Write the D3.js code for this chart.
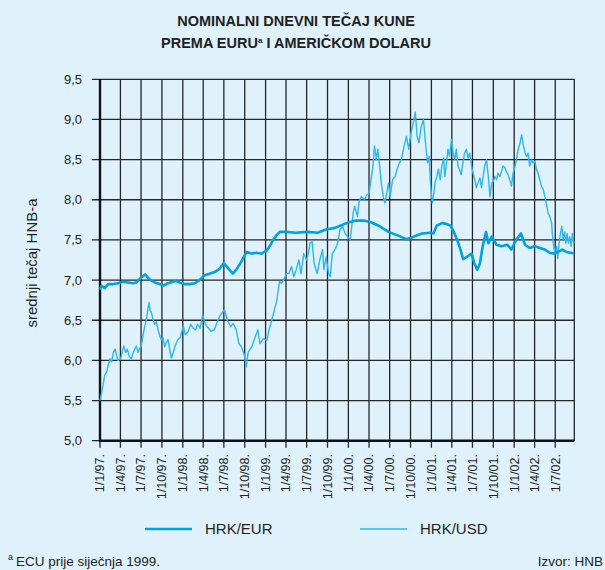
<!DOCTYPE html>
<html>
<head>
<meta charset="utf-8">
<script src="https://cdn.jsdelivr.net/npm/d3@7"></script>
<style>
  body { margin: 0; background: #dff1fb; }
  svg { display: block; font-family: "Liberation Sans", Arial, sans-serif; }
</style>
</head>
<body>
<svg id="chart"></svg>
<script>
var WIDTH = 605
var HEIGHT = 570

var TITLE_LINES = ["NOMINALNI DNEVNI TEČAJ KUNE", "PREMA EURU", " I AMERIČKOM DOLARU"]
var Y_TICKS = [5.0, 5.5, 6.0, 6.5, 7.0, 7.5, 8.0, 8.5, 9.0, 9.5]
var X_TICK_DATES = ["1997-01-01", "1997-04-01", "1997-07-01", "1997-10-01",
  "1998-01-01", "1998-04-01", "1998-07-01", "1998-10-01",
  "1999-01-01", "1999-04-01", "1999-07-01", "1999-10-01",
  "2000-01-01", "2000-04-01", "2000-07-01", "2000-10-01",
  "2001-01-01", "2001-04-01", "2001-07-01", "2001-10-01",
  "2002-01-01", "2002-04-01", "2002-07-01"]
var X_TICK_LABELS = ["1/1/97.", "1/4/97.", "1/7/97.", "1/10/97.",
  "1/1/98.", "1/4/98.", "1/7/98.", "1/10/98.",
  "1/1/99.", "1/4/99.", "1/7/99.", "1/10/99.",
  "1/1/00.", "1/4/00.", "1/7/00.", "1/10/00.",
  "1/1/01.", "1/4/01.", "1/7/01.", "1/10/01.",
  "1/1/02.", "1/4/02.", "1/7/02."]
var DATE_RANGE = ["1997-01-01", "2002-09-23"]

// HRK/EUR (ECU before 1999)
var hrkEur = [
  ["1997-01-01", 6.88], ["1997-01-08", 6.93], ["1997-01-22", 6.90], ["1997-02-06", 6.95],
  ["1997-02-28", 6.95], ["1997-03-21", 6.96], ["1997-04-13", 6.98], ["1997-05-04", 6.97],
  ["1997-05-25", 6.96], ["1997-06-10", 6.97], ["1997-07-01", 7.03], ["1997-07-19", 7.07],
  ["1997-08-07", 7.01], ["1997-08-30", 6.97], ["1997-09-22", 6.95], ["1997-10-06", 6.93],
  ["1997-10-28", 6.96], ["1997-11-19", 6.98], ["1997-12-03", 6.99], ["1997-12-18", 6.97],
  ["1998-01-09", 6.95], ["1998-01-31", 6.95], ["1998-02-23", 6.96], ["1998-03-16", 7.00],
  ["1998-04-07", 7.06], ["1998-04-29", 7.08], ["1998-05-21", 7.10], ["1998-06-12", 7.14],
  ["1998-06-30", 7.21], ["1998-07-13", 7.17], ["1998-07-25", 7.13], ["1998-08-10", 7.08],
  ["1998-08-25", 7.13], ["1998-09-16", 7.23], ["1998-10-09", 7.35], ["1998-10-31", 7.33],
  ["1998-11-21", 7.34], ["1998-12-13", 7.33], ["1999-01-07", 7.37], ["1999-01-19", 7.42],
  ["1999-02-03", 7.50], ["1999-02-19", 7.56], ["1999-03-04", 7.60], ["1999-04-02", 7.60],
  ["1999-05-14", 7.59], ["1999-07-04", 7.60], ["1999-08-19", 7.59], ["1999-09-24", 7.63],
  ["1999-11-03", 7.65], ["1999-12-25", 7.71], ["2000-01-29", 7.74], ["2000-03-12", 7.74],
  ["2000-04-10", 7.72], ["2000-05-18", 7.67], ["2000-06-26", 7.60], ["2000-08-10", 7.55],
  ["2000-09-13", 7.51], ["2000-09-28", 7.52], ["2000-10-22", 7.55], ["2000-11-21", 7.58],
  ["2000-12-25", 7.59], ["2001-01-10", 7.58], ["2001-01-25", 7.68], ["2001-02-16", 7.71],
  ["2001-03-07", 7.70], ["2001-03-25", 7.68], ["2001-04-10", 7.60], ["2001-04-25", 7.50],
  ["2001-05-09", 7.38], ["2001-05-21", 7.26], ["2001-06-07", 7.29], ["2001-06-27", 7.33],
  ["2001-07-09", 7.21], ["2001-07-22", 7.13], ["2001-08-03", 7.21], ["2001-08-15", 7.42],
  ["2001-08-30", 7.60], ["2001-09-09", 7.46], ["2001-09-24", 7.54], ["2001-10-15", 7.44],
  ["2001-11-06", 7.42], ["2001-12-01", 7.44], ["2001-12-20", 7.38], ["2002-01-09", 7.50],
  ["2002-01-31", 7.58], ["2002-02-18", 7.44], ["2002-03-10", 7.40], ["2002-04-02", 7.42],
  ["2002-04-24", 7.40], ["2002-05-16", 7.38], ["2002-06-07", 7.34], ["2002-06-24", 7.33],
  ["2002-07-13", 7.35], ["2002-08-02", 7.38], ["2002-08-19", 7.35], ["2002-09-06", 7.34],
  ["2002-09-21", 7.33]
]

// HRK/USD
var hrkUsd = [
  ["1997-01-01", 5.50], ["1997-01-08", 5.60], ["1997-01-15", 5.70], ["1997-01-22", 5.82],
  ["1997-01-30", 5.85], ["1997-02-07", 5.95], ["1997-02-14", 6.02], ["1997-02-21", 5.98],
  ["1997-03-01", 6.10], ["1997-03-09", 6.14], ["1997-03-15", 6.06], ["1997-03-21", 6.00],
  ["1997-04-02", 6.02], ["1997-04-10", 6.12], ["1997-04-16", 6.18], ["1997-04-24", 6.10],
  ["1997-05-01", 6.14], ["1997-05-10", 6.05], ["1997-05-19", 6.02], ["1997-05-28", 6.10],
  ["1997-06-10", 6.18], ["1997-06-18", 6.10], ["1997-06-25", 6.15], ["1997-07-02", 6.18],
  ["1997-07-09", 6.30], ["1997-07-17", 6.42], ["1997-07-24", 6.50], ["1997-07-30", 6.62],
  ["1997-08-05", 6.72], ["1997-08-10", 6.62], ["1997-08-15", 6.60], ["1997-08-22", 6.52],
  ["1997-08-30", 6.45], ["1997-09-07", 6.48], ["1997-09-14", 6.38], ["1997-09-22", 6.30],
  ["1997-09-29", 6.25], ["1997-10-06", 6.28], ["1997-10-13", 6.17], ["1997-10-20", 6.22],
  ["1997-10-28", 6.26], ["1997-11-05", 6.12], ["1997-11-12", 6.03], ["1997-11-20", 6.10],
  ["1997-11-27", 6.17], ["1997-12-04", 6.22], ["1997-12-11", 6.26], ["1997-12-20", 6.28],
  ["1998-01-03", 6.43], ["1998-01-12", 6.32], ["1998-01-25", 6.36], ["1998-02-05", 6.45],
  ["1998-02-16", 6.40], ["1998-02-26", 6.38], ["1998-03-08", 6.45], ["1998-03-18", 6.40],
  ["1998-03-30", 6.57], ["1998-04-07", 6.48], ["1998-04-14", 6.43], ["1998-04-25", 6.40],
  ["1998-05-06", 6.36], ["1998-05-20", 6.38], ["1998-06-05", 6.50], ["1998-06-15", 6.56],
  ["1998-07-04", 6.63], ["1998-07-16", 6.50], ["1998-08-01", 6.42], ["1998-08-11", 6.46],
  ["1998-08-25", 6.38], ["1998-09-05", 6.21], ["1998-09-16", 6.17], ["1998-09-28", 6.08],
  ["1998-10-08", 5.92], ["1998-10-16", 6.10], ["1998-11-01", 6.17], ["1998-11-16", 6.29],
  ["1998-11-28", 6.38], ["1998-12-07", 6.21], ["1998-12-22", 6.27], ["1999-01-07", 6.25],
  ["1999-01-16", 6.38], ["1999-01-28", 6.50], ["1999-02-09", 6.63], ["1999-02-20", 6.75],
  ["1999-02-28", 6.92], ["1999-03-04", 6.98], ["1999-03-12", 6.96], ["1999-03-25", 7.02],
  ["1999-04-02", 7.08], ["1999-04-13", 7.08], ["1999-04-25", 7.17], ["1999-05-06", 7.04],
  ["1999-05-16", 7.13], ["1999-05-28", 7.25], ["1999-06-06", 7.08], ["1999-06-18", 7.33],
  ["1999-07-01", 7.25], ["1999-07-10", 7.35], ["1999-07-16", 7.46], ["1999-07-25", 7.48],
  ["1999-08-03", 7.21], ["1999-08-16", 7.08], ["1999-08-28", 7.25], ["1999-09-09", 7.38],
  ["1999-09-15", 7.13], ["1999-09-25", 7.29], ["1999-10-06", 7.08], ["1999-10-13", 7.04],
  ["1999-10-22", 7.33], ["1999-11-03", 7.38], ["1999-11-15", 7.46], ["1999-11-25", 7.63],
  ["1999-12-06", 7.67], ["1999-12-18", 7.58], ["1999-12-28", 7.54], ["2000-01-09", 7.50],
  ["2000-01-16", 7.67], ["2000-01-22", 7.83], ["2000-01-29", 7.92], ["2000-02-10", 7.79],
  ["2000-02-16", 7.96], ["2000-02-27", 8.04], ["2000-03-12", 8.00], ["2000-03-22", 8.06],
  ["2000-04-01", 8.08], ["2000-04-10", 8.25], ["2000-04-18", 8.42], ["2000-04-25", 8.67],
  ["2000-05-03", 8.50], ["2000-05-10", 8.63], ["2000-05-18", 8.42], ["2000-05-25", 8.21],
  ["2000-06-03", 8.04], ["2000-06-10", 7.96], ["2000-06-18", 8.08], ["2000-06-26", 8.21],
  ["2000-07-03", 8.04], ["2000-07-14", 8.25], ["2000-07-25", 8.29], ["2000-08-03", 8.38],
  ["2000-08-13", 8.46], ["2000-08-22", 8.50], ["2000-09-03", 8.67], ["2000-09-13", 8.79],
  ["2000-09-23", 8.63], ["2000-10-03", 8.83], ["2000-10-13", 8.96], ["2000-10-22", 9.09],
  ["2000-10-30", 8.79], ["2000-11-07", 8.71], ["2000-11-18", 8.92], ["2000-11-27", 9.00],
  ["2000-12-06", 8.71], ["2000-12-15", 8.46], ["2000-12-22", 8.54], ["2000-12-28", 8.20],
  ["2001-01-05", 7.96], ["2001-01-10", 8.04], ["2001-01-17", 8.21], ["2001-01-25", 8.29],
  ["2001-02-01", 8.38], ["2001-02-09", 8.25], ["2001-02-16", 8.42], ["2001-02-24", 8.52],
  ["2001-03-01", 8.29], ["2001-03-07", 8.42], ["2001-03-15", 8.63], ["2001-03-22", 8.54],
  ["2001-03-30", 8.75], ["2001-04-07", 8.58], ["2001-04-14", 8.50], ["2001-04-21", 8.63],
  ["2001-04-28", 8.42], ["2001-05-05", 8.38], ["2001-05-12", 8.31], ["2001-05-20", 8.46],
  ["2001-05-27", 8.58], ["2001-06-04", 8.63], ["2001-06-12", 8.52], ["2001-06-19", 8.58],
  ["2001-06-27", 8.42], ["2001-07-04", 8.33], ["2001-07-11", 8.25], ["2001-07-18", 8.15],
  ["2001-07-25", 8.21], ["2001-08-03", 8.27], ["2001-08-10", 8.15], ["2001-08-17", 8.29],
  ["2001-08-24", 8.42], ["2001-09-01", 8.50], ["2001-09-09", 8.29], ["2001-09-16", 8.04],
  ["2001-09-24", 8.21], ["2001-10-01", 8.23], ["2001-10-08", 8.29], ["2001-10-15", 8.25],
  ["2001-10-22", 8.33], ["2001-10-30", 8.29], ["2001-11-06", 8.35], ["2001-11-13", 8.42],
  ["2001-11-21", 8.40], ["2001-11-28", 8.35], ["2001-12-05", 8.31], ["2001-12-12", 8.25],
  ["2001-12-20", 8.17], ["2001-12-27", 8.33], ["2002-01-05", 8.42], ["2002-01-12", 8.52],
  ["2002-01-19", 8.63], ["2002-01-27", 8.71], ["2002-02-03", 8.81], ["2002-02-11", 8.67],
  ["2002-02-18", 8.58], ["2002-02-25", 8.54], ["2002-03-03", 8.58], ["2002-03-10", 8.42],
  ["2002-03-18", 8.50], ["2002-03-25", 8.46], ["2002-04-02", 8.48], ["2002-04-09", 8.38],
  ["2002-04-16", 8.33], ["2002-04-24", 8.25], ["2002-05-01", 8.17], ["2002-05-09", 8.13],
  ["2002-05-16", 8.04], ["2002-05-22", 7.96], ["2002-05-31", 7.83], ["2002-06-07", 7.79],
  ["2002-06-15", 7.71], ["2002-06-18", 7.58], ["2002-06-24", 7.42], ["2002-07-01", 7.33],
  ["2002-07-07", 7.42], ["2002-07-12", 7.27], ["2002-07-18", 7.46], ["2002-07-24", 7.58],
  ["2002-07-30", 7.67], ["2002-08-05", 7.50], ["2002-08-11", 7.60], ["2002-08-17", 7.46],
  ["2002-08-22", 7.58], ["2002-08-28", 7.46], ["2002-09-03", 7.54], ["2002-09-09", 7.42],
  ["2002-09-15", 7.58], ["2002-09-21", 7.46]
]

var LEGEND = [
  {label: "HRK/EUR", color: "#00a2e1", width: 2.6, legendWidth: 2.4},
  {label: "HRK/USD", color: "#2cb7ee", width: 1.4, legendWidth: 1.4}
]

var parseDate = d3.timeParse("%Y-%m-%d")
var PLOT = {left: 100, right: 574.3, top: 79.3, bottom: 440.7}

var svg = d3.select("#chart")
  .attr("width", WIDTH)
  .attr("height", HEIGHT)

svg.append("rect")
  .attr("width", WIDTH)
  .attr("height", HEIGHT)
  .attr("fill", "#dff1fb")

var x = d3.scaleTime()
  .domain(DATE_RANGE.map(parseDate))
  .range([PLOT.left, PLOT.right])

var y = d3.scaleLinear()
  .domain([5, 9.5])
  .range([PLOT.bottom, PLOT.top])

function drawTitle() {
  svg.append("text")
    .attr("x", 296)
    .attr("y", 26)
    .attr("text-anchor", "middle")
    .attr("font-weight", "bold")
    .attr("font-size", 14.5)
    .attr("fill", "#231f20")
    .text(TITLE_LINES[0])

  var t2 = svg.append("text")
    .attr("x", 296)
    .attr("y", 48)
    .attr("text-anchor", "middle")
    .attr("font-weight", "bold")
    .attr("font-size", 14.5)
    .attr("fill", "#231f20")
  t2.append("tspan").text(TITLE_LINES[1])
  t2.append("tspan").attr("font-size", 8).attr("dy", -5).text("a")
  t2.append("tspan").attr("dy", 5).text(TITLE_LINES[2])
}

function drawGrid() {
  var g = svg.append("g").attr("class", "grid")

  g.selectAll(".hgrid")
    .data(Y_TICKS)
    .enter().append("line")
    .attr("class", "hgrid")
    .attr("x1", PLOT.left - 8)
    .attr("x2", PLOT.right)
    .attr("y1", function(d) { return y(d) })
    .attr("y2", function(d) { return y(d) })
    .attr("stroke", "#262626")
    .attr("stroke-width", 1.3)

  g.selectAll(".vgrid")
    .data(X_TICK_DATES)
    .enter().append("line")
    .attr("class", "vgrid")
    .attr("x1", function(d) { return x(parseDate(d)) })
    .attr("x2", function(d) { return x(parseDate(d)) })
    .attr("y1", PLOT.top)
    .attr("y2", PLOT.bottom + 7)
    .attr("stroke", "#262626")
    .attr("stroke-width", 1.3)

  // right edge of the frame
  g.append("line")
    .attr("x1", PLOT.right).attr("x2", PLOT.right)
    .attr("y1", PLOT.top).attr("y2", PLOT.bottom)
    .attr("stroke", "#262626")
    .attr("stroke-width", 1.3)

  // heavier left and bottom axis
  g.append("line")
    .attr("x1", PLOT.left).attr("x2", PLOT.left)
    .attr("y1", PLOT.top).attr("y2", PLOT.bottom + 1)
    .attr("stroke", "#111")
    .attr("stroke-width", 2.4)
  g.append("line")
    .attr("x1", PLOT.left - 1).attr("x2", PLOT.right)
    .attr("y1", PLOT.bottom).attr("y2", PLOT.bottom)
    .attr("stroke", "#111")
    .attr("stroke-width", 2.4)
}

function drawAxisLabels() {
  svg.selectAll(".ylabel")
    .data(Y_TICKS)
    .enter().append("text")
    .attr("class", "ylabel")
    .attr("x", 82)
    .attr("y", function(d) { return y(d) })
    .attr("dy", "0.35em")
    .attr("text-anchor", "end")
    .attr("font-size", 13)
    .attr("fill", "#231f20")
    .text(function(d) { return d3.format(".1f")(d).replace(".", ",") })

  svg.selectAll(".xlabel")
    .data(X_TICK_DATES)
    .enter().append("text")
    .attr("class", "xlabel")
    .attr("transform", function(d) {
      return "translate(" + x(parseDate(d)) + "," + 454 + ") rotate(-90)"
    })
    .attr("dy", "0.35em")
    .attr("text-anchor", "end")
    .attr("font-size", 12.5)
    .attr("fill", "#231f20")
    .text(function(d, i) { return X_TICK_LABELS[i] })

  svg.append("text")
    .attr("transform", "translate(37,263) rotate(-90)")
    .attr("text-anchor", "middle")
    .attr("font-size", 15)
    .attr("fill", "#231f20")
    .text("srednji tečaj HNB-a")
}

function drawSeries(data, style) {
  var line = d3.line()
    .x(function(d) { return x(parseDate(d[0])) })
    .y(function(d) { return y(d[1]) })

  svg.append("path")
    .datum(data)
    .attr("fill", "none")
    .attr("stroke", style.color)
    .attr("stroke-width", style.width)
    .attr("stroke-linejoin", "round")
    .attr("d", line)
}

function drawLegend() {
  var items = svg.selectAll(".legend")
    .data(LEGEND)
    .enter().append("g")
    .attr("class", "legend")
    .attr("transform", function(d, i) { return "translate(" + (145 + i * 215) + ",529)" })

  items.append("line")
    .attr("x1", 0).attr("x2", 47)
    .attr("stroke", function(d) { return d.color })
    .attr("stroke-width", function(d) { return d.legendWidth })

  items.append("text")
    .attr("x", 60)
    .attr("dy", "0.35em")
    .attr("font-size", 15)
    .attr("fill", "#231f20")
    .text(function(d) { return d.label })
}

function drawNotes() {
  var note = svg.append("text")
    .attr("x", 8)
    .attr("y", 566)
    .attr("font-size", 13.5)
    .attr("fill", "#231f20")
  note.append("tspan").attr("font-size", 9).attr("dy", -6).text("a")
  note.append("tspan").attr("dy", 6).attr("dx", 3).text("ECU prije siječnja 1999.")

  // the source line sits against the right edge of the picture
  svg.append("text")
    .attr("x", 603)
    .attr("y", 566)
    .attr("text-anchor", "end")
    .attr("font-size", 13.5)
    .attr("fill", "#231f20")
    .text("Izvor: HNB")
}

drawTitle()
drawGrid()
drawAxisLabels()
drawSeries(hrkUsd, LEGEND[1])
drawSeries(hrkEur, LEGEND[0])
drawLegend()
drawNotes()
</script>
</body>
</html>
